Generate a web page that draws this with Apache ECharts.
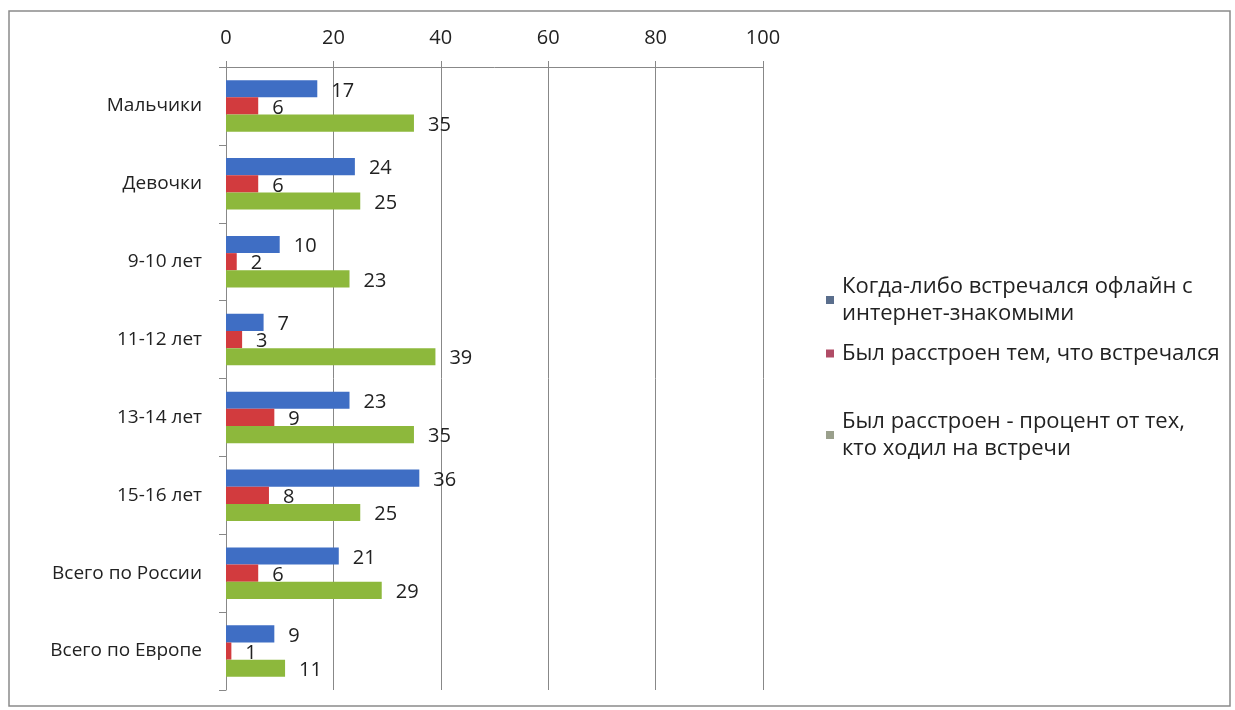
<!DOCTYPE html>
<html><head><meta charset="utf-8">
<script src="https://cdn.jsdelivr.net/npm/echarts@6/dist/echarts.min.js"></script>
<style>html,body{margin:0;padding:0;background:#fff}#c{width:1235px;height:710px}</style>
</head><body><div id="c"></div>
<script>
const categories = ['Мальчики','Девочки','9-10 лет','11-12 лет','13-14 лет','15-16 лет','Всего по России','Всего по Европе'];
const seriesNames = ['Когда-либо встречался офлайн с\nинтернет-знакомыми','Был расстроен тем, что встречался','Был расстроен - процент от тех,\nкто ходил на встречи'];
const metOffline = [17,24,10,7,23,36,21,9];
const upsetMet = [6,6,2,3,9,8,6,1];
const upsetPercent = [35,25,23,39,35,25,29,11];
const xTicks = [0,20,40,60,80,100];
const colors = ['#3F6EC4','#D23B3E','#8DB83C'];
const legendColors = ['#5A6E8C','#B04C66','#9AA08C'];
const font = '"Open Sans", sans-serif';
const values = [metOffline, upsetMet, upsetPercent];
const chart = echarts.init(document.getElementById('c'));
const legendTops = [268, 335, 403];
chart.setOption({
  animation:false,
  textStyle:{fontFamily:font},
  graphic:[{type:'rect',shape:{x:9,y:11,width:1221,height:695},style:{fill:'none',stroke:'#8a8a8a',lineWidth:1.5}}],
  legend: seriesNames.map((n,i)=>({
    data:[{name:n,itemStyle:{color:legendColors[i]}}],
    orient:'vertical', left:821, top:legendTops[i],
    itemWidth:8, itemHeight:8, icon:'rect', itemGap:0,
    textStyle:{fontSize:22,color:'#222',fontFamily:font,lineHeight:27,padding:[0,0,0,3]}
  })),
  grid:{left:226,right:472,top:67,bottom:20,containLabel:false},
  xAxis:{type:'value',position:'top',min:xTicks[0],max:xTicks[xTicks.length-1],interval:20,
    axisLine:{show:true,lineStyle:{color:'#888'}},
    axisTick:{show:true,length:6,lineStyle:{color:'#888'}},
    axisLabel:{fontSize:20,color:'#222',margin:19,fontFamily:font},
    splitLine:{show:true,lineStyle:{color:'#888',width:1}}},
  yAxis:{type:'category',data:categories,inverse:true,
    axisLine:{show:true,lineStyle:{color:'#888'}},
    axisTick:{show:true,length:7,lineStyle:{color:'#888'}},
    axisLabel:{fontSize:19,color:'#222',margin:24,fontFamily:font}},
  series: values.map((v,i)=>({
    type:'bar',name:seriesNames[i],data:v,
    itemStyle:{color:colors[i]},
    barGap:'0%',barCategoryGap:'34%',
    label:{show:true,position:'right',distance:14,offset:[0,2],fontSize:20,color:'#222',fontFamily:font}
  }))
});
</script></body></html>
